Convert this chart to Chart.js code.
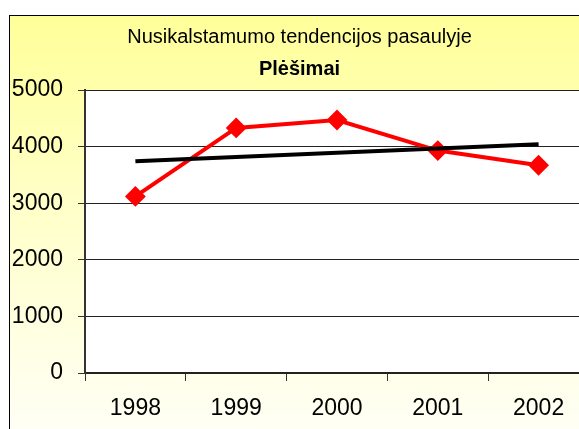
<!DOCTYPE html>
<html>
<head>
<meta charset="utf-8">
<script src="https://cdn.jsdelivr.net/npm/chart.js@4"></script>
<style>
  html, body { margin: 0; padding: 0; background: #ffffff; overflow: hidden; width: 579px; height: 429px; }
  #box {
    position: absolute; left: 9px; top: 15px;
    width: 600px; height: 420px;
    border-left: 1px solid #000; border-top: 1px solid #000;
    background: linear-gradient(to bottom, #FFFF99 0%, #FFFFC8 45%, #FFFFF6 100%);
  }
  canvas { display: block; }
</style>
</head>
<body>
<div id="box"><canvas id="c" width="582" height="413"></canvas></div>
<script>
const titleText = "Nusikalstamumo tendencijos pasaulyje";
const subtitleText = "Plėšimai";
const years = ["1998", "1999", "2000", "2001", "2002"];
const robberies = [3120, 4330, 4470, 3930, 3670];
const trend = [3740, null, null, null, 4040];
const yTicks = [0, 1000, 2000, 3000, 4000, 5000];

const plotBg = {
  id: 'plotBg',
  beforeDraw(chart) {
    const { ctx, chartArea: a } = chart;
    ctx.save();
    ctx.fillStyle = '#ffffff';
    ctx.fillRect(a.left, a.top, a.right - a.left, a.bottom - a.top);
    ctx.restore();
  }
};

new Chart(document.getElementById('c'), {
  type: 'line',
  data: {
    labels: years,
    datasets: [
      {
        label: 'Plėšimai',
        data: robberies,
        borderColor: '#FF0000',
        backgroundColor: '#FF0000',
        borderWidth: 4,
        tension: 0,
        pointStyle: 'rectRot',
        pointRadius: 9,
        pointBorderWidth: 2,
        pointBackgroundColor: '#FF0000',
        pointBorderColor: '#FF0000',
        order: 1
      },
      {
        label: 'Trend',
        data: trend,
        borderColor: '#000000',
        borderWidth: 4,
        pointRadius: 0,
        spanGaps: true,
        tension: 0,
        order: 0
      }
    ]
  },
  options: {
    responsive: false,
    animation: false,
    layout: { autoPadding: false, padding: { left: 0, right: 3, top: 0, bottom: 0 } },
    plugins: {
      legend: { display: false },
      tooltip: { enabled: false },
      title: {
        display: true,
        text: titleText,
        color: '#000',
        font: { family: '"Liberation Sans", Arial, sans-serif', size: 20, weight: 'normal' },
        padding: { top: 9, bottom: 0 }
      },
      subtitle: {
        display: true,
        text: subtitleText,
        color: '#000',
        font: { family: '"Liberation Sans", Arial, sans-serif', size: 20, weight: 'bold' },
        padding: { top: 8, bottom: 9 }
      }
    },
    scales: {
      x: {
        offset: true,
        grid: {
          offset: true,
          drawOnChartArea: false,
          drawTicks: true,
          tickLength: 8,
          tickWidth: 1,
          tickColor: '#333'
        },
        border: { display: true, color: '#222', width: 2 },
        ticks: {
          color: '#000',
          padding: 14,
          maxRotation: 0,
          font: { family: '"Liberation Sans", Arial, sans-serif', size: 23 }
        },
        afterFit(scale) {
          scale.height = 56;
          scale.paddingLeft = 0;
          scale.paddingRight = 0;
        }
      },
      y: {
        min: 0,
        max: 5000,
        afterBuildTicks(scale) { scale.ticks = yTicks.map(v => ({ value: v })); },
        grid: {
          color: '#222',
          lineWidth: 1,
          drawTicks: true,
          tickLength: 7,
          tickColor: '#333'
        },
        border: { display: true, color: '#333', width: 2 },
        ticks: {
          color: '#000',
          padding: 15,
          callback: (v) => String(v),
          font: { family: '"Liberation Sans", Arial, sans-serif', size: 23 }
        },
        afterFit(scale) { scale.width = 75; }
      }
    }
  },
  plugins: [plotBg]
});
</script>
</body>
</html>
